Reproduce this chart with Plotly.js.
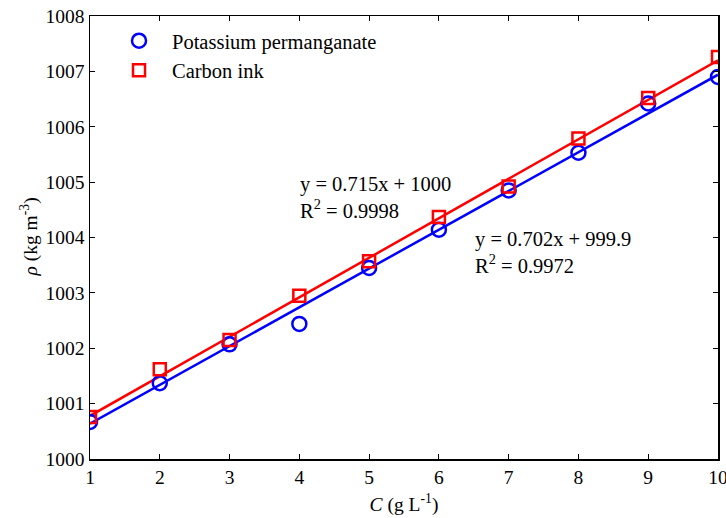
<!DOCTYPE html>
<html><head><meta charset="utf-8">
<script src="https://cdn.plot.ly/plotly-3.0.1.min.js"></script>
<style>html,body{margin:0;padding:0;background:#fff}#chart{width:726px;height:518px}</style>
</head><body><div id="chart"></div>
<script>
const concentration = [1,2,3,4,5,6,7,8,9,10];
const kmno4Density = [1000.67,1001.37,1002.07,1002.44,1003.45,1004.14,1004.85,1005.53,1006.42,1006.90];
const inkDensity   = [1000.76,1001.62,1002.15,1002.95,1003.57,1004.37,1004.92,1005.79,1006.52,1007.26];
const fitX = [1,10];
const kmno4Fit = [1000.64,1006.94];
const inkFit   = [1000.78,1007.20];
const xTicks = [1,2,3,4,5,6,7,8,9,10];
const yTicks = [1000,1001,1002,1003,1004,1005,1006,1007,1008];
const seriesNames = ['Potassium permanganate','Carbon ink'];
const fitLabels = ['y = 0.715x + 1000<br>R<sup>2</sup> = 0.9998','y = 0.702x + 999.9<br>R<sup>2</sup> = 0.9972'];
const yTitle = '<i>ρ</i> (kg m<sup>-3</sup>)';

const font = 'Liberation Serif, Times New Roman, serif';
const traces = [
  {x: fitX, y: kmno4Fit, mode:'lines', line:{color:'#0000ff', width:2.5}, showlegend:false, hoverinfo:'skip'},
  {x: fitX, y: inkFit, mode:'lines', line:{color:'#ff0000', width:2.5}, showlegend:false, hoverinfo:'skip'},
  {x: concentration, y: kmno4Density, mode:'markers', name: seriesNames[0],
   marker:{symbol:'circle-open', size:14, color:'#0000ff', line:{width:2.5, color:'#0000ff'}}},
  {x: concentration, y: inkDensity, mode:'markers', name: seriesNames[1],
   marker:{symbol:'square-open', size:12, color:'#ff0000', line:{width:2.5, color:'#ff0000'}}}
];
const axisCommon = {showline:true, linecolor:'#000', linewidth:1.5, mirror:'ticks', ticks:'inside', ticklen:5, tickwidth:1, tickcolor:'#000', showgrid:false, zeroline:false, ticklabeloverflow:'allow', tickfont:{family:font, size:19.5, color:'#000'}};
const layout = {
  width:726, height:518,
  margin:{l:90, r:8, t:16, b:59},
  paper_bgcolor:'#fff', plot_bgcolor:'#fff',
  font:{family:font, color:'#000'},
  xaxis: Object.assign({}, axisCommon, {range:[1,10], tickvals:xTicks, ticktext:xTicks.map(String),
    title:{text:'<i>C</i> (g L<sup>-1</sup>)', font:{family:font, size:19.5, color:'#000'}, standoff:10}}),
  yaxis: Object.assign({}, axisCommon, {range:[1000,1008], tickvals:yTicks, ticktext:yTicks.map(String)}),
  legend:{x:0.0255, y:0.989, xanchor:'left', yanchor:'top', bgcolor:'rgba(0,0,0,0)', borderwidth:0,
    font:{family:font, size:20.5, color:'#000'}, tracegroupgap:0, itemwidth:56},
  annotations:[
    {x:3.98, y:1004.73, xref:'x', yref:'y', xanchor:'left', yanchor:'middle', align:'left', showarrow:false,
     text: fitLabels[0], font:{family:font, size:20.5, color:'#000'}},
    {x:6.49, y:1003.73, xref:'x', yref:'y', xanchor:'left', yanchor:'middle', align:'left', showarrow:false,
     text: fitLabels[1], font:{family:font, size:20.5, color:'#000'}},
    {x:0, y:0.5, xref:'paper', yref:'paper', xanchor:'center', yanchor:'middle', xshift:-61, textangle:-90,
     showarrow:false, text: yTitle, font:{family:font, size:19.5, color:'#000'}}
  ]
};
Plotly.newPlot('chart', traces, layout, {displayModeBar:false, staticPlot:true});
</script></body></html>
